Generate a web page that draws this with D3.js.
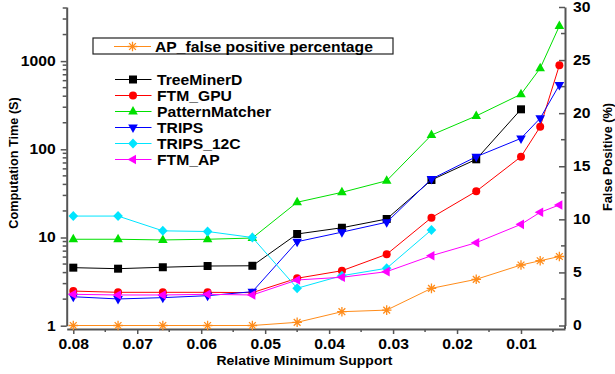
<!DOCTYPE html>
<html><head><meta charset="utf-8">
<script src="https://cdn.jsdelivr.net/npm/d3@7"></script>
<style>
body{margin:0;background:#fff}
svg{display:block}
text{font-family:"Liberation Sans",Arial,Helvetica,sans-serif;font-weight:bold;fill:#000}
</style>
</head><body>
<svg id="c" width="615" height="374"></svg>
<script>
// ---------- data ----------
const supports = [0.08, 0.073, 0.066, 0.059, 0.052, 0.045, 0.038, 0.031, 0.024, 0.017, 0.01, 0.007, 0.004];
const treeMinerD = [4.55, 4.43, 4.6, 4.75, 4.78, 10.96, 12.9, 16.2, 44.9, 77, 284];
const ftmGPU = [2.47, 2.39, 2.39, 2.39, 2.37, 3.45, 4.2, 6.45, 16.8, 33.4, 82.4, 180, 896];
const patternMatcher = [9.55, 9.55, 9.38, 9.55, 9.86, 25.1, 32.5, 44, 145, 239, 421, 829, 2500];
const trips = [2.13, 2.01, 2.08, 2.19, 2.43, 8.96, 11.5, 14.9, 46, 82.4, 133, 225, 536];
const trips12C = [17.5, 17.5, 11.9, 11.7, 10.0, 2.66, 3.69, 4.48, 12.2];
const ftmAP = [2.27, 2.23, 2.23, 2.27, 2.23, 3.3, 3.54, 4.1, 6.22, 8.73, 14.1, 19.3, 23.4];
const apFalsePositive = [0, 0, 0, 0, 0, 0.3, 1.3, 1.45, 3.5, 4.35, 5.7, 6.1, 6.5];

const xTickValues = [0.08, 0.07, 0.06, 0.05, 0.04, 0.03, 0.02, 0.01];
const xMinorTicks = [0.075, 0.065, 0.055, 0.045, 0.035, 0.025, 0.015, 0.005];
const yLeftTicks = [1, 10, 100, 1000];
const yRightTicks = [0, 5, 10, 15, 20, 25, 30];
const yRightMinor = [2.5, 7.5, 12.5, 17.5, 22.5, 27.5];

const seriesNames = ["TreeMinerD", "FTM_GPU", "PatternMatcher", "TRIPS", "TRIPS_12C", "FTM_AP"];
const seriesValues = [treeMinerD, ftmGPU, patternMatcher, trips, trips12C, ftmAP];
const seriesColors = ["#000000", "#ff0000", "#00e000", "#0000ff", "#00e5ff", "#ff00ff"];
const seriesShapes = ["square", "circle", "triUp", "triDown", "diamond", "triLeft"];
const fpName = "AP_false positive percentage";
const fpColor = "#ff8c1a";

// ---------- layout ----------
const svg = d3.select("#c");
const L = 66.7, R = 565, T = 7, B = 325.7, xAxisY = 329;
const x = d3.scaleLinear().domain([0.08103, 0.00312]).range([L, R]);
const yL = d3.scaleLog().domain([1, 4106]).range([B, T]);
const yR = d3.scaleLinear().domain([0, 30]).range([325.5, T]);
const STRETCH = 1.12;
const axisColor = "#555";

function stretch(sel, k) {
  sel.each(function () {
    const len = this.getComputedTextLength();
    this.setAttribute("textLength", len * k);
    this.setAttribute("lengthAdjust", "spacingAndGlyphs");
  });
}

function marker(shape) {
  const p = d3.path();
  switch (shape) {
    case "square": p.rect(-4, -4, 8, 8); break;
    case "circle": p.arc(0, 0, 4, 0, 2 * Math.PI); break;
    case "triUp": p.moveTo(0, -5.5); p.lineTo(4.8, 3); p.lineTo(-4.8, 3); p.closePath(); break;
    case "triDown": p.moveTo(0, 5.5); p.lineTo(4.8, -3); p.lineTo(-4.8, -3); p.closePath(); break;
    case "triLeft": p.moveTo(-5.5, 0); p.lineTo(3, -4.8); p.lineTo(3, 4.8); p.closePath(); break;
    case "diamond": p.moveTo(0, -5); p.lineTo(4.8, 0); p.lineTo(0, 5); p.lineTo(-4.8, 0); p.closePath(); break;
  }
  return p.toString();
}
function asterisk() {
  const p = d3.path(), r = 4.8;
  for (let i = 0; i < 4; i++) {
    const a = i * Math.PI / 4;
    p.moveTo(-r * Math.cos(a), -r * Math.sin(a));
    p.lineTo(r * Math.cos(a), r * Math.sin(a));
  }
  return p.toString();
}

// ---------- axes ----------
const gL = svg.append("g").attr("transform", `translate(${L},0)`)
  .call(d3.axisLeft(yL).tickValues(yLeftTicks).tickFormat(d3.format("d")).tickSize(6).tickSizeOuter(0).tickPadding(5));
const minorL = [];
[1, 10, 100, 1000].forEach(d => { for (let k = 2; k <= 9; k++) if (d * k <= 4106) minorL.push(d * k); });
gL.selectAll(".mn").data(minorL).join("line").attr("class", "mn")
  .attr("x1", 0).attr("x2", -4).attr("y1", d => yL(d)).attr("y2", d => yL(d));

const gB = svg.append("g").attr("transform", `translate(0,${xAxisY})`)
  .call(d3.axisBottom(x).tickValues(xTickValues).tickFormat(d3.format(".2f")).tickSize(5).tickSizeOuter(0).tickPadding(5));
gB.selectAll(".mn").data(xMinorTicks).join("line").attr("class", "mn")
  .attr("y1", 0).attr("y2", 3).attr("x1", d => x(d)).attr("x2", d => x(d));

const gR = svg.append("g").attr("transform", `translate(${R},0)`)
  .call(d3.axisRight(yR).tickValues(yRightTicks).tickSize(-6).tickSizeOuter(0).tickPadding(8));
gR.selectAll(".mn").data(yRightMinor).join("line").attr("class", "mn")
  .attr("x1", 0).attr("x2", -4).attr("y1", d => yR(d)).attr("y2", d => yR(d));

[gL, gB, gR].forEach(g => {
  g.select(".domain").attr("stroke", axisColor).attr("stroke-width", 2);
  g.selectAll(".tick line, .mn").attr("stroke", axisColor).attr("stroke-width", 1.5);
  g.selectAll("text").attr("font-size", 14).attr("fill", "#000")
    .style("font-family", '"Liberation Sans",Arial,sans-serif').style("font-weight", "bold");
  stretch(g.selectAll(".tick text"), STRETCH);
});
svg.append("line").attr("x1", R).attr("x2", R).attr("y1", 325.5).attr("y2", xAxisY)
  .attr("stroke", axisColor).attr("stroke-width", 2);

// axis titles
svg.append("text").attr("transform", "translate(18,163) rotate(-90)")
  .attr("text-anchor", "middle").attr("font-size", 12.7).text("Computation Time (S)");
svg.append("text").attr("transform", "translate(612,157) rotate(-90)")
  .attr("text-anchor", "middle").attr("font-size", 12.7).text("False Positive (%)");
svg.append("text").attr("x", 304.5).attr("y", 365)
  .attr("text-anchor", "middle").attr("font-size", 12.7).text("Relative Minimum Support")
  .call(stretch, 1.1);

// ---------- series ----------
const plot = svg.append("g");
seriesValues.forEach((vals, i) => {
  const pts = vals.map((v, j) => [supports[j], v]);
  plot.append("path").datum(pts)
    .attr("fill", "none").attr("stroke", seriesColors[i]).attr("stroke-width", 1)
    .attr("d", d3.line().x(d => x(d[0])).y(d => yL(d[1])));
  plot.selectAll(null).data(pts).join("path")
    .attr("transform", d => `translate(${x(d[0])},${yL(d[1])})`)
    .attr("d", marker(seriesShapes[i])).attr("fill", seriesColors[i]);
});
const fpPts = apFalsePositive.map((v, j) => [supports[j], v]);
plot.append("path").datum(fpPts)
  .attr("fill", "none").attr("stroke", fpColor).attr("stroke-width", 1)
  .attr("d", d3.line().x(d => x(d[0])).y(d => yR(d[1])));
plot.selectAll(null).data(fpPts).join("path")
  .attr("transform", d => `translate(${x(d[0])},${yR(d[1])})`)
  .attr("d", asterisk()).attr("fill", "none").attr("stroke", fpColor).attr("stroke-width", 1.3);

// ---------- legends ----------
const lg1 = svg.append("g");
lg1.append("rect").attr("x", 93).attr("y", 38).attr("width", 300).attr("height", 16)
  .attr("fill", "#fff").attr("stroke", "#222").attr("stroke-width", 1.2);
lg1.append("line").attr("x1", 114).attr("x2", 151).attr("y1", 46.5).attr("y2", 46.5)
  .attr("stroke", fpColor).attr("stroke-width", 1);
lg1.append("path").attr("transform", "translate(132.5,46.5)").attr("d", asterisk())
  .attr("fill", "none").attr("stroke", fpColor).attr("stroke-width", 1.3);
lg1.append("text").attr("x", 155).attr("y", 46.5).attr("dy", "0.36em").attr("font-size", 14)
  .text(fpName).call(stretch, STRETCH);

const lg2 = svg.append("g");
seriesNames.forEach((name, i) => {
  const yy = 79.5 + i * 16;
  lg2.append("line").attr("x1", 115).attr("x2", 151.5).attr("y1", yy).attr("y2", yy)
    .attr("stroke", seriesColors[i]).attr("stroke-width", 1);
  lg2.append("path").attr("transform", `translate(133,${yy})`).attr("d", marker(seriesShapes[i]))
    .attr("fill", seriesColors[i]);
  lg2.append("text").attr("x", 157).attr("y", yy).attr("dy", "0.36em").attr("font-size", 14)
    .text(name).call(stretch, STRETCH);
});
</script>
</body></html>
